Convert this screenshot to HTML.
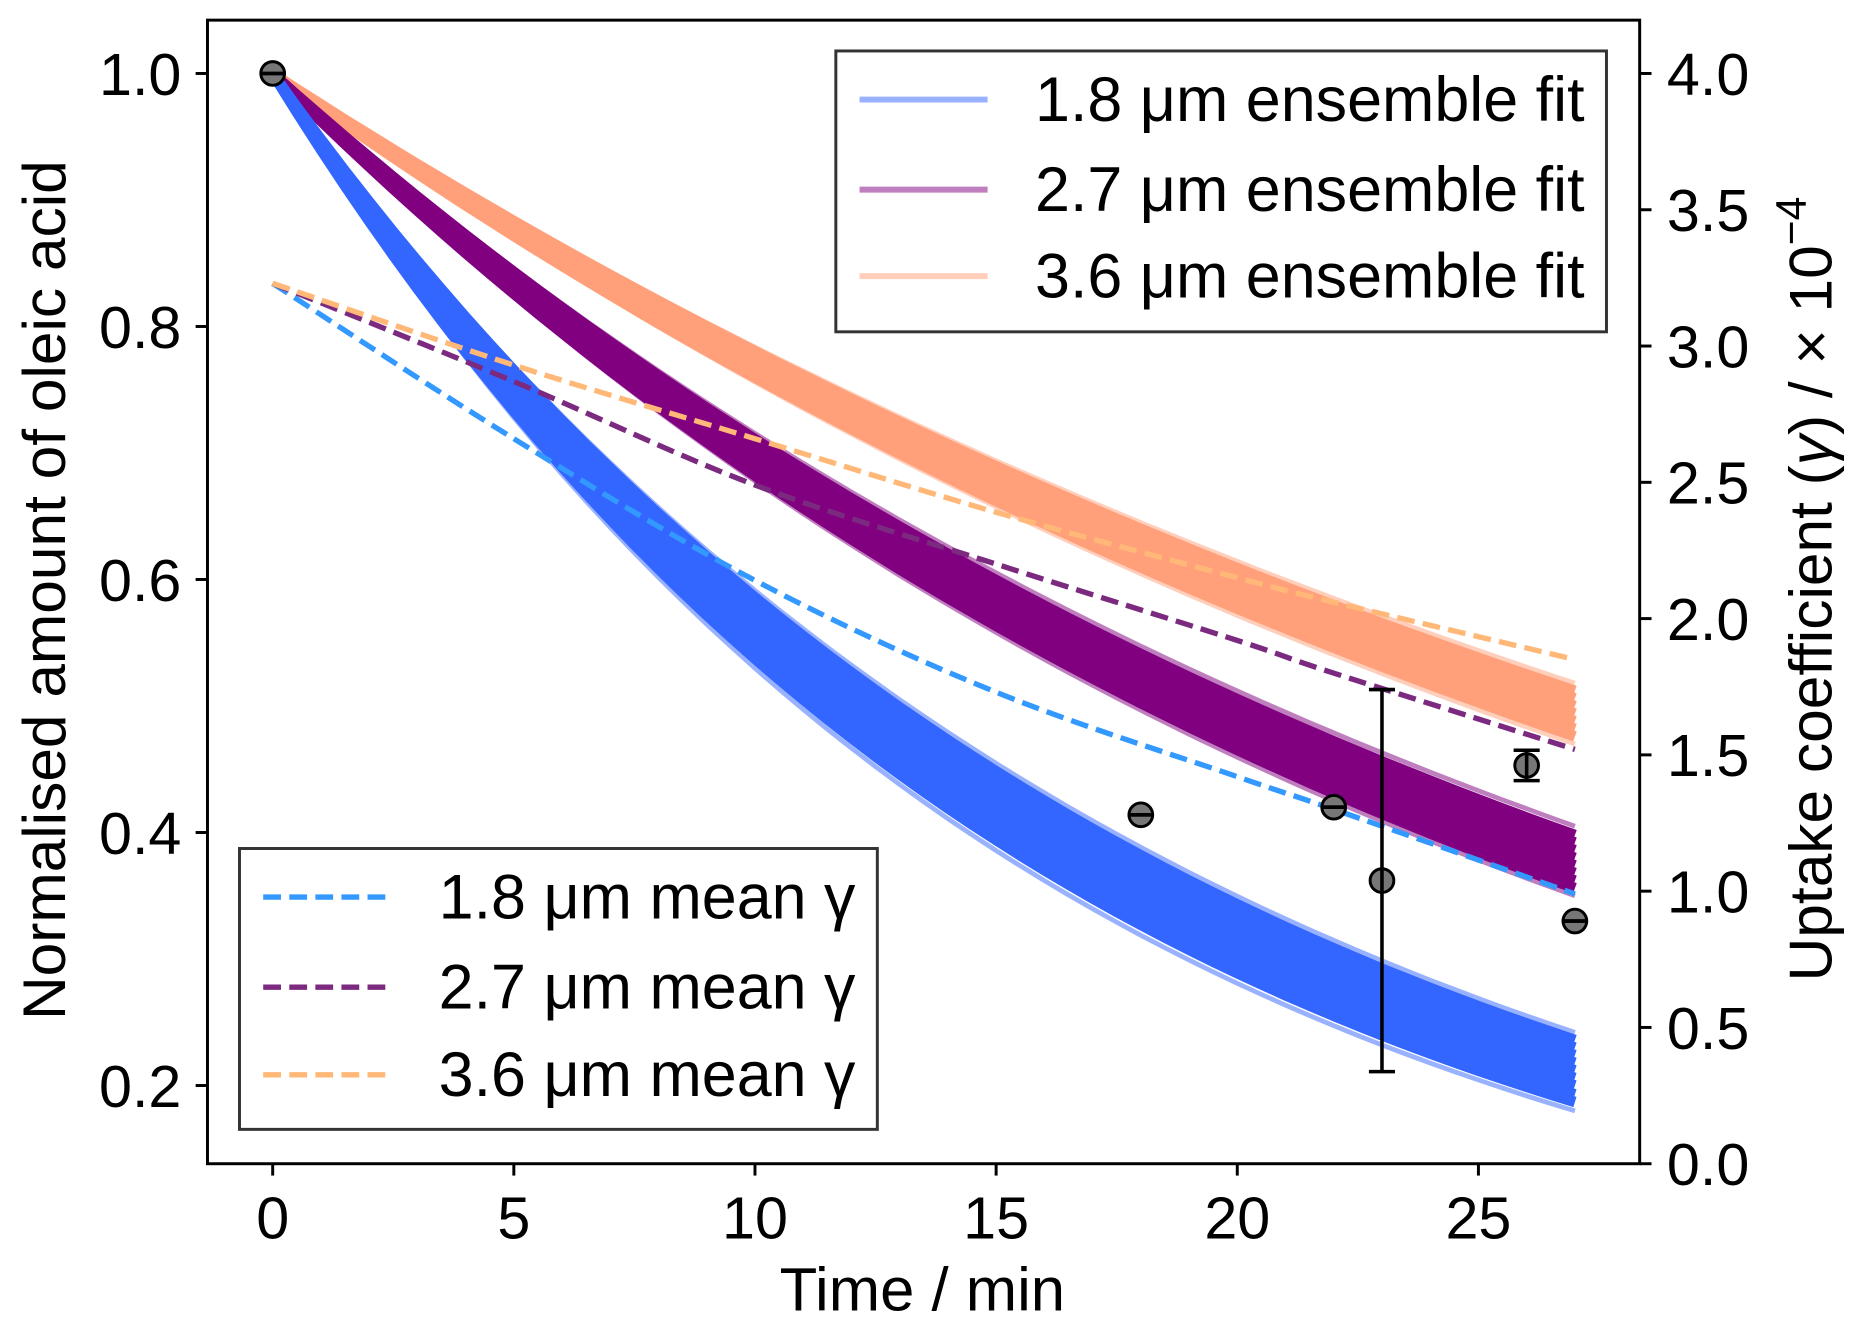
<!DOCTYPE html>
<html><head><meta charset="utf-8"><style>
html,body{margin:0;padding:0;background:#fff}
svg{display:block}
text{font-family:"Liberation Sans",Arial,sans-serif;fill:#000}
</style></head><body>
<svg id="chart" width="1859" height="1332" viewBox="0 0 1568 1124" preserveAspectRatio="none" xmlns="http://www.w3.org/2000/svg">
<g id="plot"></g>
<rect x="175" y="17" width="1208" height="965" fill="none" stroke="#000" stroke-width="2.5"/>
<g id="axes"></g>
<text x="778" y="1106" font-size="52" text-anchor="middle">Time / min</text>
<text transform="translate(55,498) rotate(-90)" font-size="51" text-anchor="middle">Normalised amount of oleic acid</text>
<text transform="translate(1545,497) rotate(-90)" font-size="51" text-anchor="middle">Uptake coefficient (<tspan font-style="italic">γ</tspan>) / × 10<tspan dy="-22" font-size="36">−4</tspan></text>
<g>
<rect x="705" y="43" width="650" height="237" fill="#fff" fill-opacity="0.85" stroke="#333" stroke-width="2.5"/>
<line x1="725" y1="84" x2="833" y2="84" stroke="#3366ff" stroke-opacity="0.5" stroke-width="5"/>
<text x="873" y="102" font-size="53">1.8 μm ensemble fit</text>
<line x1="725" y1="160" x2="833" y2="160" stroke="#800080" stroke-opacity="0.5" stroke-width="5"/>
<text x="873" y="178" font-size="53">2.7 μm ensemble fit</text>
<line x1="725" y1="233" x2="833" y2="233" stroke="#ffa07a" stroke-opacity="0.5" stroke-width="5"/>
<text x="873" y="251" font-size="53">3.6 μm ensemble fit</text>
</g>
<g>
<rect x="202" y="716" width="538" height="237" fill="#fff" fill-opacity="0.85" stroke="#333" stroke-width="2.5"/>
<line x1="222" y1="757" x2="328" y2="757" stroke="#3399ff" stroke-width="4.5" stroke-dasharray="15,7"/>
<text x="370" y="775" font-size="53">1.8 μm mean γ</text>
<line x1="222" y1="833" x2="328" y2="833" stroke="#7b2a80" stroke-width="4.5" stroke-dasharray="15,7"/>
<text x="370" y="851" font-size="53">2.7 μm mean γ</text>
<line x1="222" y1="907" x2="328" y2="907" stroke="#ffb877" stroke-width="4.5" stroke-dasharray="15,7"/>
<text x="370" y="925" font-size="53">3.6 μm mean γ</text>
</g>
</svg>
<script>
// ensemble fits: value at t=27 for each member
const fitEnd18=[0.18,0.187,0.193,0.2,0.206,0.212,0.218,0.224,0.23,0.236,0.242];
const fitEnd27=[0.35,0.356,0.362,0.368,0.374,0.38,0.386,0.392,0.398,0.405];
const fitEnd36=[0.47,0.476,0.482,0.488,0.494,0.5,0.506,0.512,0.518];
// mean gamma (right axis, ×1e-4)
const gammaT=[0,5,10,15,20,22,27];
const gamma18=[3.23,2.66,2.14,1.73,1.42,1.30,0.99];
const gamma27=[3.23,2.87,2.49,2.20,1.92,1.80,1.52];
const gamma36=[3.23,2.93,2.66,2.39,2.15,2.06,1.85];
// data points
const ptT=[0,18,22,23,26,27];
const ptY=[1.0,0.414,0.42,0.362,0.453,0.33];
const ptErr=[0,0,0,0.151,0.012,0];
const xTicks=[0,5,10,15,20,25];
const yTicks=[0.2,0.4,0.6,0.8,1.0];
const y2Ticks=[0,0.5,1,1.5,2,2.5,3,3.5,4];

const NS="http://www.w3.org/2000/svg";
const X=t=>230+t*(1247-230)/25;
const Y=v=>62+(1-v)*1067.5;
const Y2=v=>982-v*230;
const plot=document.getElementById('plot'), axes=document.getElementById('axes');
function mk(tag,attrs,parent){const e=document.createElementNS(NS,tag);for(const k in attrs)e.setAttribute(k,attrs[k]);parent.appendChild(e);return e;}

function band(ends,color,name){
  ends.forEach((v,i)=>{
    const k=Math.log(v)/27;let p=[];
    for(let t=0;t<=27;t+=0.5)p.push(X(t).toFixed(1)+","+Y(Math.exp(k*t)).toFixed(1));
    const edge=(i===0||i===ends.length-1);
    const l=mk('polyline',{points:p.join(' '),fill:'none',stroke:color,'stroke-width':edge?4:9,'stroke-opacity':edge?0.5:1},plot);
    
    
  });
}
band(fitEnd36,'#ffa07a','fit-3-6');
band(fitEnd27,'#800080','fit-2-7');
band(fitEnd18,'#3366ff','fit-1-8');

function smoothPath(px,py){
  let d="M"+px[0]+","+py[0];
  for(let i=0;i<px.length-1;i++){
    const x0=px[Math.max(i-1,0)],y0=py[Math.max(i-1,0)];
    const x3=px[Math.min(i+2,px.length-1)],y3=py[Math.min(i+2,px.length-1)];
    const c1x=px[i]+(px[i+1]-x0)/6,c1y=py[i]+(py[i+1]-y0)/6;
    const c2x=px[i+1]-(x3-px[i])/6,c2y=py[i+1]-(y3-py[i])/6;
    d+=" C"+c1x+","+c1y+" "+c2x+","+c2y+" "+px[i+1]+","+py[i+1];
  }
  return d;
}
function dashed(vals,color,name){
  const d=smoothPath(gammaT.map(X),vals.map(Y2));
  const l=mk('path',{d:d,fill:'none',stroke:color,'stroke-width':4.5,'stroke-dasharray':'15,7'},plot);
  
  
}
dashed(gamma18,'#3399ff','mean-gamma-1-8');
dashed(gamma27,'#7b2a80','mean-gamma-2-7');
dashed(gamma36,'#ffb877','mean-gamma-3-6');

ptT.forEach((t,i)=>{
  const g=mk('g',{},plot);
  
  
  const x=X(t),e=ptErr[i];
  const y1=Y(ptY[i]+e),y2=Y(ptY[i]-e);
  mk('circle',{cx:x,cy:Y(ptY[i]),r:10,fill:'#777',stroke:'#000','stroke-width':2.5},g);
  if(e>0)mk('line',{x1:x,x2:x,y1:y1,y2:y2,stroke:'#000','stroke-width':3},g);
  mk('line',{x1:x-11,x2:x+11,y1:y1,y2:y1,stroke:'#000','stroke-width':3},g);
  mk('line',{x1:x-11,x2:x+11,y1:y2,y2:y2,stroke:'#000','stroke-width':3},g);
});

xTicks.forEach(t=>{
  mk('line',{x1:X(t),x2:X(t),y1:982,y2:992,stroke:'#000','stroke-width':2.5},axes);
  const s=mk('text',{x:X(t),y:1045,'font-size':50,'text-anchor':'middle'},axes);s.textContent=t;
  
  
});
yTicks.forEach(v=>{
  mk('line',{x1:165,x2:175,y1:Y(v),y2:Y(v),stroke:'#000','stroke-width':2.5},axes);
  const s=mk('text',{x:153,y:Y(v)+18,'font-size':50,'text-anchor':'end'},axes);s.textContent=v.toFixed(1);
  
  
});
y2Ticks.forEach(v=>{
  mk('line',{x1:1383,x2:1393,y1:Y2(v),y2:Y2(v),stroke:'#000','stroke-width':2.5},axes);
  const s=mk('text',{x:1406,y:Y2(v)+18,'font-size':50},axes);s.textContent=v.toFixed(1);
  
  
});
</script>
</body></html>
